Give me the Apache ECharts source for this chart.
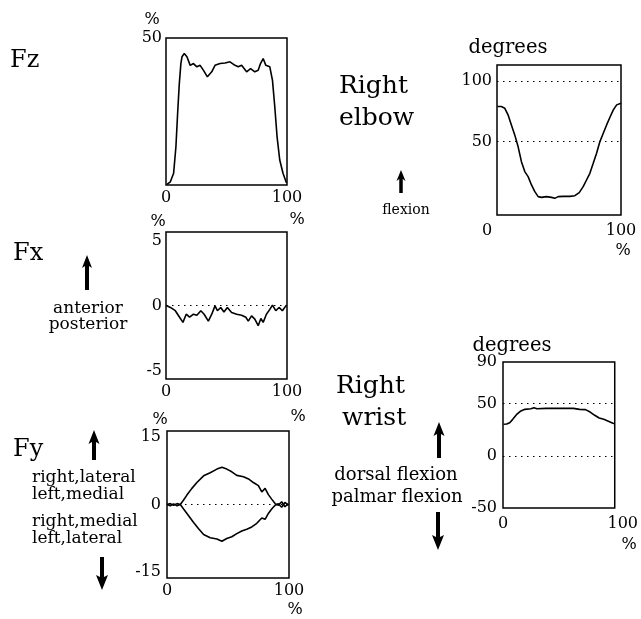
<!DOCTYPE html>
<html>
<head>
<meta charset="utf-8">
<style>
html,body{margin:0;padding:0;background:#fff;}
#chart{width:641px;height:619px;}
</style>
<script src="https://cdn.jsdelivr.net/npm/echarts@6/dist/echarts.min.js"></script>
</head>
<body>
<div id="chart"></div>
<script>
// ---- data (x = % of cycle, y = value) ----
const fzData = [[0.8,0.2],[3.6,1.1],[6.3,4],[8.2,13],[9.6,24.3],[11,34.5],[12.3,41.3],[13.2,43.6],[15.1,44.7],[17.3,43.6],[20,40.7],[22.7,41.3],[25.5,40.2],[28.2,40.7],[31,39],[34.2,36.8],[37.8,38.5],[40.5,40.7],[44.7,41.3],[48.8,41.5],[52.9,41.9],[57,40.7],[59.7,40.2],[62.5,40.7],[66.6,38.5],[69.9,39.6],[73.4,38.5],[76.2,39],[78.1,41.3],[80.3,43],[82.5,40.7],[85.8,40.2],[88,35.6],[89.9,26.6],[91.8,16.4],[94,8.5],[96.7,4],[99.5,0.8]];
const fxData = [[0.3,0],[3.6,-0.15],[7.7,-0.4],[11.2,-0.9],[14,-1.3],[16.7,-0.67],[19.5,-0.9],[22.7,-0.67],[25.5,-0.75],[28.8,-0.4],[31.5,-0.67],[35,-1.2],[37.8,-0.67],[40.5,-0.03],[42.5,-0.4],[45.2,-0.15],[47.9,-0.5],[50.7,-0.15],[54.2,-0.54],[58.4,-0.67],[62.5,-0.75],[66,-0.9],[68,-1.2],[70.7,-0.8],[73.4,-1.05],[76.2,-1.55],[78.4,-1.0],[80.3,-1.3],[83,-0.67],[85.8,-0.3],[88,0.03],[90.7,-0.4],[93.4,-0.15],[96.2,-0.4],[99.5,0.03]];
const fyUpper = [[0,0],[2.7,0.2],[5.4,-0.15],[8.2,0.2],[10.9,0],[13.6,1.0],[16.3,2.1],[20.4,3.6],[24.5,4.9],[30,6.4],[35.4,7.1],[40.9,7.9],[45,8.3],[49,7.9],[53.1,7.3],[57.2,6.5],[62.7,6.2],[66.8,5.7],[70.8,4.9],[74.9,4.2],[77.7,2.8],[80.4,3.6],[83.1,2.2],[85.8,1.2],[88.6,0.2],[91.3,-0.15],[94,0.6],[96.7,-0.5],[99.5,0.2]];
const fyLower = [[0,0],[2.7,-0.3],[5.4,0.15],[8.2,-0.3],[10.9,0],[13.6,-1.0],[17.7,-2.5],[21.8,-4.0],[25.9,-5.4],[30,-6.7],[35.4,-7.4],[40.9,-7.7],[45,-8.2],[49,-7.6],[53.1,-7.2],[57.2,-6.5],[61.3,-5.9],[65.4,-5.5],[69.5,-5.0],[73.6,-4.2],[77.7,-3.0],[80.4,-3.3],[83.1,-2.0],[85.8,-1.0],[88.6,-0.15],[91.3,0.15],[94,-0.6],[96.7,0.45],[99.5,-0.2]];
const elbowData = [[0.3,78.8],[3.5,78.8],[6.2,77.5],[8.9,72],[11.6,63.7],[14.3,55.5],[17,45.9],[19.7,33.5],[22.4,25.3],[25.1,21.2],[27.8,14.3],[30.5,8.8],[33.2,4.7],[35.8,4.1],[39.9,4.7],[44,4.1],[46.6,3.3],[49.3,4.7],[53.4,4.9],[58.8,4.9],[62.8,5.5],[66.3,8],[69.5,12.9],[72.2,18.4],[74.9,23.9],[77.6,32.1],[80.3,40.4],[83,50],[85.7,56.9],[88.4,63.7],[91.1,70],[93.8,76.1],[96.5,80.2],[100,81.6]];
const wristData = [[0.5,30.3],[3.3,30.6],[6,31.8],[8.7,35],[12,39.5],[15.5,42.7],[19.6,44.6],[25,45.2],[27.7,46.2],[30.4,45.2],[38.6,45.5],[49.5,45.5],[57.6,45.5],[63,45.5],[68.5,44.6],[73.9,44.3],[78,42],[82.1,38.9],[86.1,36.3],[90.2,35],[94.3,33.1],[98.4,31.2],[100,30.9]];

// tick labels
const xTicks = [0, 100];
const fzTicks = [50];
const fxTicks = [-5, 0, 5];
const fyTicks = [-15, 0, 15];
const elbowTicks = [50, 100];
const wristTicks = [-50, 0, 50, 90];
const fxRefLines = [0];
const fyRefLines = [0];
const elbowRefLines = [50, 100];
const wristRefLines = [0, 50];

const FF = '"DejaVu Serif", serif';

const grids = [
  {left:166, top:38,  width:121, height:147},
  {left:166, top:232, width:121, height:147},
  {left:167, top:431, width:122, height:147},
  {left:497, top:65,  width:124, height:150},
  {left:503, top:362, width:122, height:146}
].map(g => Object.assign({show:true, borderColor:'#000', borderWidth:1.5, backgroundColor:'transparent'}, g));

function xAx(i, margin, shift0, shift100){
  const lab = {customValues:xTicks, margin:margin, color:'#000', fontSize:16, fontFamily:FF};
  if (shift0 || shift100) {
    lab.formatter = v => (v === 0 ? '{a|0}' : '{b|' + v + '}');
    lab.rich = {
      a:{fontSize:16, fontFamily:FF, color:'#000', padding: shift0 < 0 ? [0, -2*shift0, 0, 0] : [0, 0, 0, 2*(shift0||0)]},
      b:{fontSize:16, fontFamily:FF, color:'#000', padding: shift100 < 0 ? [0, -2*shift100, 0, 0] : [0, 0, 0, 2*(shift100||0)]}
    };
  }
  return {type:'value', gridIndex:i, min:0, max:100,
    axisLine:{show:false}, axisTick:{show:false}, splitLine:{show:false},
    axisLabel:lab};
}
function yAx(i, min, max, ticks, margin){
  return {type:'value', gridIndex:i, min:min, max:max,
    axisLine:{show:false}, axisTick:{show:false}, splitLine:{show:false},
    axisLabel:{customValues:ticks, margin:margin, color:'#000', fontSize:16, fontFamily:FF}};
}
function refLines(vals){
  return {silent:true, symbol:['none','none'], label:{show:false},
    lineStyle:{color:'#000', width:1, type:[1.5,4.5]},
    data: vals.map(v => ({yAxis:v}))};
}
function line(i, data, ref){
  const s = {type:'line', xAxisIndex:i, yAxisIndex:i, data:data, showSymbol:false,
    lineStyle:{color:'#000', width:1.6}, animation:false};
  if (ref) s.markLine = refLines(ref);
  return s;
}

function txt(x, y, text, size, align){
  return {type:'text', x:x, y:y, silent:true,
    style:{text:text, fill:'#000', font: size + 'px ' + FF, align: align || 'left', verticalAlign:'middle'}};
}
function arrow(cx, y1, y2, up, headW, shaftW, headL){
  let pts;
  if (up) {
    pts = [[cx,y1],[cx+headW/2,y1+headL],[cx+shaftW/2,y1+headL-2],[cx+shaftW/2,y2],[cx-shaftW/2,y2],[cx-shaftW/2,y1+headL-2],[cx-headW/2,y1+headL]];
  } else {
    pts = [[cx,y2],[cx+headW/2,y2-headL],[cx+shaftW/2,y2-headL+2],[cx+shaftW/2,y1],[cx-shaftW/2,y1],[cx-shaftW/2,y2-headL+2],[cx-headW/2,y2-headL]];
  }
  return {type:'polygon', silent:true, shape:{points:pts}, style:{fill:'#000'}};
}

const graphic = [
  txt(10, 61, 'Fz', 24),
  txt(13, 254, 'Fx', 24),
  txt(13, 450, 'Fy', 24),
  arrow(87, 255, 290, true, 10, 4, 13),
  txt(88, 309, 'anterior', 17, 'center'),
  txt(88, 325, 'posterior', 17, 'center'),
  arrow(94, 430, 460, true, 11, 4, 14),
  txt(32, 478, 'right,lateral', 17),
  txt(32, 495, 'left,medial', 17),
  txt(32, 522, 'right,medial', 17),
  txt(32, 539, 'left,lateral', 17),
  arrow(102, 557, 590, false, 12, 4, 15),
  txt(339, 86, 'Right', 25),
  txt(339, 118, 'elbow', 25),
  arrow(401, 170, 193, true, 9, 3.5, 11),
  txt(406, 210, 'flexion', 14, 'center'),
  txt(336, 386, 'Right', 25),
  txt(342, 418, 'wrist', 25),
  arrow(439, 422, 458, true, 11, 4, 14),
  txt(396, 475, 'dorsal flexion', 18, 'center'),
  txt(397, 497, 'palmar flexion', 18, 'center'),
  arrow(438, 512, 550, false, 12, 4, 15),
  // units
  txt(152, 20, '%', 16, 'center'),
  txt(297, 220, '%', 16, 'center'),
  txt(158, 222, '%', 16, 'center'),
  txt(298, 417, '%', 16, 'center'),
  txt(160, 420, '%', 16, 'center'),
  txt(295, 610, '%', 16, 'center'),
  txt(508, 48, 'degrees', 19.5, 'center'),
  txt(623, 251, '%', 16, 'center'),
  txt(512, 346, 'degrees', 19.5, 'center'),
  txt(629, 545, '%', 16, 'center')
];

const option = {
  animation:false,
  backgroundColor:'#fff',
  textStyle:{fontFamily:FF, color:'#000'},
  grid: grids,
  xAxis: [xAx(0,5), xAx(1,5), xAx(2,5), xAx(3,8,-10,0), xAx(4,8,0,8)],
  yAxis: [
    yAx(0, 0, 50, fzTicks, 4),
    yAx(1, -5.65, 5.65, fxTicks, 4),
    yAx(2, -16.4, 16.4, fyTicks, 6),
    yAx(3, -10.4, 113, elbowTicks, 5),
    yAx(4, -50, 90, wristTicks, 6)
  ],
  series: [
    line(0, fzData),
    line(1, fxData, fxRefLines),
    line(2, fyUpper, fyRefLines),
    line(2, fyLower),
    line(3, elbowData, elbowRefLines),
    line(4, wristData, wristRefLines)
  ],
  graphic: graphic
};

const chart = echarts.init(document.getElementById('chart'), null, {renderer:'canvas'});
chart.setOption(option);
</script>
</body>
</html>
